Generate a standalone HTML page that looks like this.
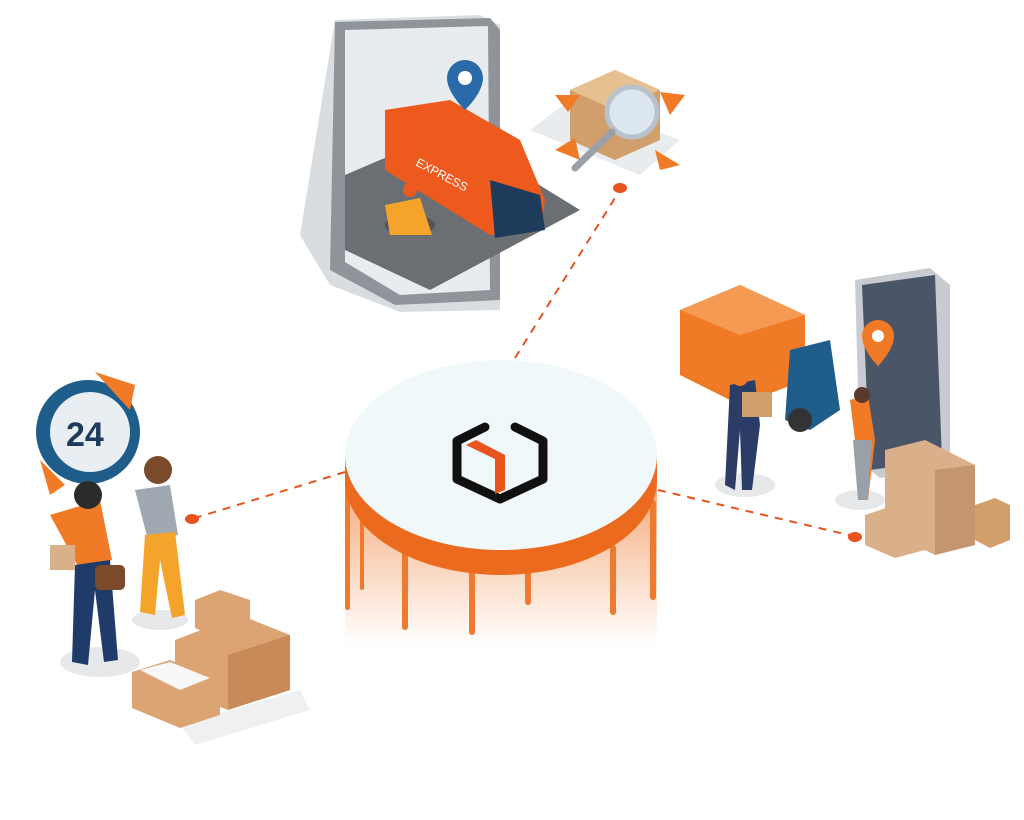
<!DOCTYPE html>
<html><head><meta charset="utf-8"><style>html,body{margin:0;padding:0;background:#fff}svg{display:block}</style></head>
<body>
<svg width="1024" height="820" viewBox="0 0 1024 820" xmlns="http://www.w3.org/2000/svg">
<defs>
<linearGradient id="fade" x1="0" y1="0" x2="0" y2="1">
<stop offset="0" stop-color="#ef7a2e" stop-opacity="0.75"/>
<stop offset="1" stop-color="#ef7a2e" stop-opacity="0"/>
</linearGradient>
</defs>
<!-- dashed connectors -->
<g stroke="#e8531e" stroke-width="2" stroke-dasharray="8,7" fill="none">
<line x1="515" y1="358" x2="620" y2="190"/>
<line x1="345" y1="472" x2="195" y2="518"/>
<line x1="658" y1="490" x2="853" y2="536"/>
</g>
<g fill="#e8531e">
<ellipse cx="620" cy="188" rx="7" ry="5"/>
<ellipse cx="192" cy="519" rx="7" ry="5"/>
<ellipse cx="855" cy="537" rx="7" ry="5"/>
</g>
<!-- central disc -->
<rect x="345" y="455" width="312" height="190" fill="url(#fade)"/>
<g fill="#ef7a2e">
<rect x="345" y="470" width="5" height="140" rx="2.5"/>
<rect x="360" y="520" width="4" height="70" rx="2"/>
<rect x="402" y="550" width="6" height="80" rx="3"/>
<rect x="469" y="560" width="6" height="75" rx="3"/>
<rect x="525" y="560" width="6" height="45" rx="3"/>
<rect x="610" y="545" width="6" height="70" rx="3"/>
<rect x="650" y="500" width="6" height="100" rx="3"/>
</g>
<path d="M345 455 A156 95 0 0 0 657 455 L657 480 A156 95 0 0 1 345 480 Z" fill="#ec6a1e"/>
<ellipse cx="501" cy="455" rx="156" ry="95" fill="#f1f8fa"/>
<!-- logo -->
<g stroke="#111" stroke-width="9" stroke-linecap="round" stroke-linejoin="round" fill="none">
<path d="M485 427 L457 441 L457 479 L500 499 L543 479 L543 441 L515 427"/>
</g>
<path d="M466 445 L476 440 L505 455 L505 490 L495 494 L495 459 Z" fill="#e8531e"/>
<!-- top-left tablet -->
<path d="M300 235 L335 20 L480 15 L500 25 L500 310 L400 312 L330 285 Z" fill="#d9dde0"/>
<path d="M335 22 L490 18 L500 30 L500 300 L395 305 L330 270 Z" fill="#8e9499"/>
<path d="M345 30 L488 26 L490 290 L400 295 L345 262 Z" fill="#e9ecef"/>
<path d="M345 175 L450 130 L580 210 L430 290 L345 250 Z" fill="#6b6f73"/>
<path d="M385 110 L450 100 L520 140 L545 200 L540 230 L490 235 L385 170 Z" fill="#ee5a1e"/>
<path d="M490 180 L540 195 L545 230 L495 238 Z" fill="#1f3b5c"/>
<text x="415" y="165" font-family="Liberation Sans, sans-serif" font-size="12" fill="#fff" transform="rotate(28 415 165)">EXPRESS</text>
<path d="M465 60 a18 18 0 0 1 18 18 c0 15 -18 32 -18 32 c0 0 -18 -17 -18 -32 a18 18 0 0 1 18 -18z" fill="#2a6aa8"/>
<circle cx="465" cy="78" r="7" fill="#fff"/>
<ellipse cx="410" cy="225" rx="25" ry="10" fill="#555"/>
<path d="M385 205 L420 198 L432 235 L390 235 Z" fill="#f4a42a"/>
<circle cx="410" cy="190" r="7" fill="#ee5a1e"/>
<!-- magnifier box -->
<path d="M530 130 L570 100 L680 140 L640 175 Z" fill="#e9ecef"/>
<path d="M570 90 L615 70 L660 90 L660 140 L615 160 L570 140 Z" fill="#d19f6c"/>
<path d="M570 90 L615 110 L660 90 L615 70 Z" fill="#e7c08f"/>
<circle cx="632" cy="112" r="25" fill="#dce6ef" stroke="#b9c2ca" stroke-width="5"/>
<line x1="612" y1="132" x2="575" y2="168" stroke="#9aa0a6" stroke-width="7" stroke-linecap="round"/>
<g fill="#f07a26"><path d="M555 95 L580 95 L568 112Z"/><path d="M660 92 L685 95 L670 115Z"/><path d="M555 150 L575 138 L580 160Z"/><path d="M655 150 L680 165 L660 170Z"/></g>
<!-- right truck + phone -->
<ellipse cx="745" cy="485" rx="30" ry="12" fill="#e6e8ea"/>
<ellipse cx="860" cy="500" rx="25" ry="10" fill="#e6e8ea"/>
<path d="M855 280 L930 268 L950 285 L950 465 L880 478 L860 462 Z" fill="#c8ccd0"/>
<path d="M862 285 L935 275 L942 460 L870 470 Z" fill="#4a5568"/>
<path d="M878 320 a16 16 0 0 1 16 16 c0 14 -16 30 -16 30 c0 0 -16 -16 -16 -30 a16 16 0 0 1 16 -16z" fill="#f07a26"/>
<circle cx="878" cy="336" r="6" fill="#fff"/>
<path d="M680 310 L740 285 L805 315 L805 380 L740 405 L680 375 Z" fill="#f07a26"/>
<path d="M680 310 L740 335 L805 315 L740 285Z" fill="#f49a52"/>
<path d="M790 350 L830 340 L840 410 L810 430 L785 420 Z" fill="#1f5d8a"/>
<circle cx="800" cy="420" r="12" fill="#333"/>
<path d="M730 385 L755 380 L760 425 L752 490 L742 490 L740 430 L735 490 L725 485 Z" fill="#2b3d66"/>
<rect x="742" y="392" width="30" height="25" fill="#d19f6c"/>
<circle cx="740" cy="378" r="8" fill="#f07a26"/>
<path d="M850 400 L868 395 L875 440 L868 500 L858 500 L855 440 Z" fill="#f07a26"/>
<path d="M853 440 L872 440 L868 500 L858 500Z" fill="#9aa0a8"/>
<circle cx="862" cy="395" r="8" fill="#5a3a2a"/>
<!-- right boxes -->
<path d="M885 450 L925 440 L975 465 L975 545 L935 555 L885 530 Z" fill="#d9b08a"/>
<path d="M935 470 L975 465 L975 545 L935 555Z" fill="#c49670"/>
<path d="M865 515 L895 505 L925 520 L925 550 L895 558 L865 545Z" fill="#d9b08a"/>
<path d="M975 505 L995 498 L1010 505 L1010 540 L990 548 L975 540Z" fill="#d19f6c"/>
<!-- left clock -->
<circle cx="88" cy="432" r="52" fill="#1f5d8a"/>
<circle cx="90" cy="432" r="40" fill="#e9eef2"/>
<text x="66" y="446" font-family="Liberation Sans, sans-serif" font-weight="bold" font-size="34" fill="#1f3b5c">24</text>
<path d="M95 372 L135 385 L130 410 Z" fill="#f07a26"/>
<path d="M40 460 L65 485 L50 495 Z" fill="#f07a26"/>
<!-- left people -->
<ellipse cx="100" cy="662" rx="40" ry="15" fill="#e6e8ea"/>
<ellipse cx="160" cy="620" rx="28" ry="10" fill="#e6e8ea"/>
<path d="M135 490 L170 485 L178 535 L148 540 Z" fill="#a0a8b2"/>
<path d="M145 535 L175 532 L185 615 L172 618 L160 560 L155 615 L140 612 Z" fill="#f4a42a"/>
<circle cx="158" cy="470" r="14" fill="#7a4a2a"/>
<path d="M50 515 L100 500 L112 560 L80 570 Z" fill="#f07a26"/>
<path d="M75 565 L110 560 L118 660 L104 662 L95 590 L88 665 L72 662 Z" fill="#1f3b6a"/>
<circle cx="88" cy="495" r="14" fill="#2a2a2a"/>
<rect x="50" y="545" width="25" height="25" fill="#d9b08a"/>
<rect x="95" y="565" width="30" height="25" rx="5" fill="#7a4a2a"/>
<!-- left boxes -->
<path d="M180 725 L300 690 L310 710 L195 745Z" fill="#eef0f2"/>
<path d="M195 600 L220 590 L250 600 L250 630 L222 640 L195 628Z" fill="#dca473"/>
<path d="M175 640 L240 615 L290 635 L290 690 L228 710 L175 690Z" fill="#dca473"/>
<path d="M228 655 L290 635 L290 690 L228 710Z" fill="#c88a58"/>
<path d="M132 672 L170 660 L220 680 L220 715 L180 728 L132 708Z" fill="#dca473"/>
<path d="M140 670 L170 662 L210 678 L180 690Z" fill="#f7f7f7"/>
</svg>
</body></html>
